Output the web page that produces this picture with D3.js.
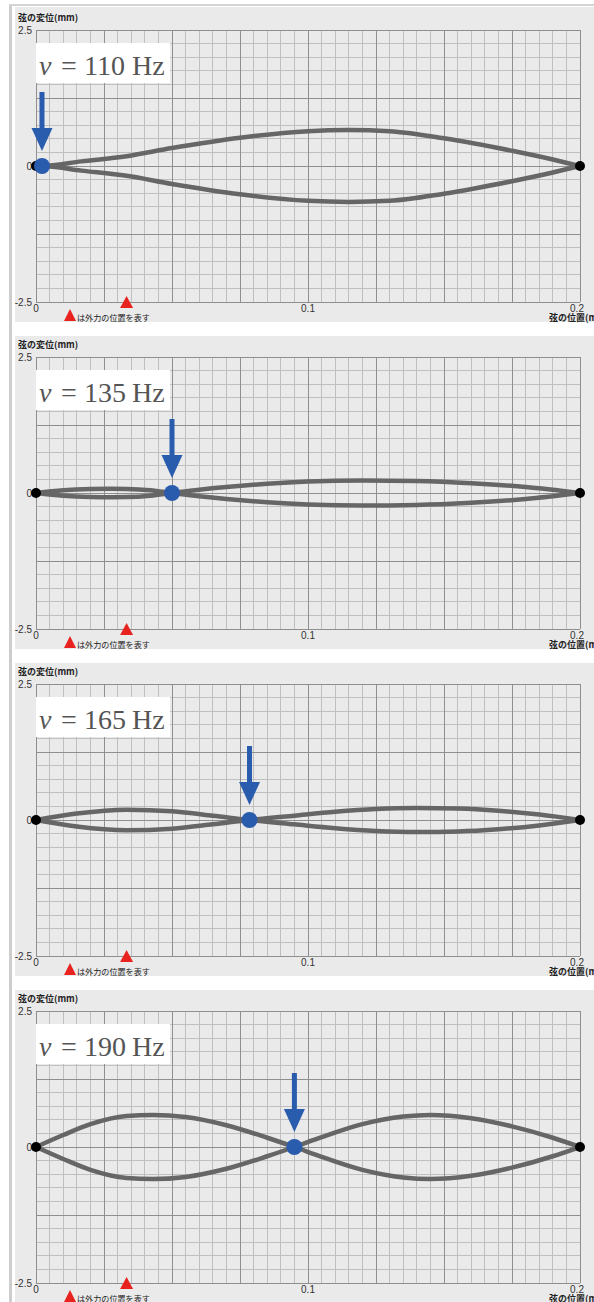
<!DOCTYPE html>
<html>
<head>
<meta charset="utf-8">
<script src="https://cdn.jsdelivr.net/npm/d3@7/dist/d3.min.js"></script>
<style>
html,body{margin:0;padding:0;background:#fff;}
svg{display:block;}
</style>
</head>
<body>
<svg id="chart" width="594" height="1302"></svg>
<script>
// ---------------- data ----------------
const frequencies = [110, 135, 165, 190];
const forcePosition = 0.0333;                 // m (red triangle)
const nodePositions = [0.0022, 0.05, 0.0785, 0.095]; // m (blue dot / arrow)
const endPositions = [0, 0.2];

const xTickValues = [0, 0.1, 0.2];
const xTickLabels = ["0", "0.1", "0.2"];
const yTickValues = [2.5, 0, -2.5];
const yTickLabels = ["2.5", "0", "-2.5"];

// string displacement (mm) along position (m); the two drawn curves are +d and -d
const pos110 = [0, 0.0022, 0.0167, 0.0333, 0.05, 0.075, 0.1, 0.115, 0.13, 0.15, 0.175, 0.19, 0.2];
const disp110 = [0, 0, 0.085, 0.18, 0.33, 0.52, 0.64, 0.66, 0.64, 0.51, 0.28, 0.12, 0];

const pos135 = [0, 0.01, 0.02, 0.028, 0.0333, 0.042, 0.05, 0.06, 0.07, 0.085, 0.1, 0.12, 0.14, 0.16, 0.18, 0.2];
const disp135 = [0, 0.05, 0.073, 0.078, 0.075, 0.05, 0, -0.06, -0.11, -0.17, -0.21, -0.23, -0.22, -0.18, -0.11, 0];

const pos165 = [0, 0.015, 0.0333, 0.05, 0.065, 0.0785, 0.095, 0.11, 0.125, 0.14, 0.155, 0.17, 0.185, 0.2];
const disp165 = [0, 0.12, 0.19, 0.16, 0.08, 0, -0.08, -0.15, -0.2, -0.22, -0.21, -0.17, -0.1, 0];

const pos190 = [0, 0.01, 0.02, 0.0333, 0.043, 0.055, 0.07, 0.085, 0.095, 0.105, 0.12, 0.135, 0.145, 0.16, 0.175, 0.19, 0.2];
const disp190 = [0, 0.22, 0.42, 0.57, 0.59, 0.55, 0.40, 0.17, 0, -0.18, -0.42, -0.56, -0.59, -0.53, -0.38, -0.17, 0];

const positions = [pos110, pos135, pos165, pos190];
const displacements = [disp110, disp135, disp165, disp190];

const yAxisTitle = "弦の変位(mm)";
const xAxisTitle = "弦の位置(m)";
const legendText = "は外力の位置を表す";

// ---------------- layout ----------------
const W = 594, H = 1302;
const panelStep = 327;
const firstPlotTop = 30;
const plotH = 272;
const plotLeft = 36, plotRight = 580;

const svg = d3.select("#chart");
svg.append("rect").attr("width", W).attr("height", H).attr("fill", "#fff");

// left frame strip and top frame line
svg.append("rect").attr("x", 9).attr("y", 4).attr("width", 3).attr("height", H).attr("fill", "#cdcdcd");
svg.append("rect").attr("x", 9).attr("y", 4).attr("width", W - 9).attr("height", 2).attr("fill", "#d4d4d4");

const x = d3.scaleLinear().domain([0, 0.2]).range([plotLeft, plotRight]);
const CJK = "'Noto Sans CJK JP', 'Noto Sans', sans-serif";
const SANS = "'Liberation Sans', Arial, sans-serif";

frequencies.forEach((f, i) => {
  const plotTop = firstPlotTop + i * panelStep;
  const plotBottom = plotTop + plotH;
  const panelTop = i === 0 ? 7 : plotTop - 21;
  const panelBottom = plotBottom + 20;
  const y = d3.scaleLinear().domain([-2.5, 2.5]).range([plotBottom, plotTop]);

  const g = svg.append("g");
  g.append("rect").attr("x", 15).attr("y", panelTop).attr("width", W - 15)
    .attr("height", panelBottom - panelTop).attr("fill", "#eaeaea");

  // grid
  const xGrid = d3.range(41).map(k => k * 0.005);
  const yGrid = d3.range(21).map(k => -2.5 + k * 0.25);
  const grid = g.append("g").attr("shape-rendering", "crispEdges");
  grid.selectAll(".vmin").data(xGrid.filter((d, k) => k % 5 !== 0)).join("line")
    .attr("x1", d => x(d)).attr("x2", d => x(d)).attr("y1", plotTop).attr("y2", plotBottom)
    .attr("stroke", "#bfbfbf").attr("stroke-width", 1);
  grid.selectAll(".hmin").data(yGrid.filter((d, k) => k % 5 !== 0)).join("line")
    .attr("y1", d => y(d)).attr("y2", d => y(d)).attr("x1", plotLeft).attr("x2", plotRight)
    .attr("stroke", "#bfbfbf").attr("stroke-width", 1);
  grid.selectAll(".vmaj").data(xGrid.filter((d, k) => k % 5 === 0)).join("line")
    .attr("x1", d => x(d)).attr("x2", d => x(d)).attr("y1", plotTop).attr("y2", plotBottom)
    .attr("stroke", "#8f8f8f").attr("stroke-width", 1);
  grid.selectAll(".hmaj").data(yGrid.filter((d, k) => k % 5 === 0)).join("line")
    .attr("y1", d => y(d)).attr("y2", d => y(d)).attr("x1", plotLeft).attr("x2", plotRight)
    .attr("stroke", "#8f8f8f").attr("stroke-width", 1);

  // axis titles and tick labels
  g.append("text").attr("x", 18).attr("y", plotTop - 9.5).text(yAxisTitle)
    .attr("font-family", CJK).attr("font-weight", "bold").attr("font-size", 9).attr("fill", "#222");
  g.selectAll(".ytl").data(yTickValues).join("text")
    .attr("x", 32).attr("y", d => y(d)).attr("dy", "0.35em")
    .attr("text-anchor", "end").attr("font-family", SANS).attr("font-size", 10).attr("fill", "#333")
    .text((d, k) => yTickLabels[k]);
  g.selectAll(".xtl").data(xTickValues).join("text")
    .attr("x", (d, k) => x(d) - (k === 2 ? 3 : 0)).attr("y", plotBottom + 9.5)
    .attr("text-anchor", "middle").attr("font-family", SANS).attr("font-size", 10).attr("fill", "#333")
    .text((d, k) => xTickLabels[k]);
  g.append("text").attr("x", 549).attr("y", plotBottom + 19).text(xAxisTitle)
    .attr("font-family", CJK).attr("font-weight", "bold").attr("font-size", 9).attr("fill", "#222");

  // legend
  g.append("path").attr("d", `M64,${plotBottom + 19}L70,${plotBottom + 7}L76,${plotBottom + 19}Z`).attr("fill", "#e8231f");
  g.append("text").attr("x", 77).attr("y", plotBottom + 18.5).text(legendText)
    .attr("font-family", CJK).attr("font-size", 8.1).attr("fill", "#222");

  // string curves
  const pts = positions[i].map((p, k) => [p, displacements[i][k]]);
  const line = d3.line().x(d => x(d[0])).y(d => y(d[1])).curve(d3.curveMonotoneX);
  const lineNeg = d3.line().x(d => x(d[0])).y(d => y(-d[1])).curve(d3.curveMonotoneX);
  g.append("path").attr("d", line(pts)).attr("fill", "none").attr("stroke", "#666")
    .attr("stroke-width", 4.5).attr("stroke-linejoin", "round");
  g.append("path").attr("d", lineNeg(pts)).attr("fill", "none").attr("stroke", "#666")
    .attr("stroke-width", 4.5).attr("stroke-linejoin", "round");

  // fixed ends
  g.selectAll(".end").data(endPositions).join("circle")
    .attr("cx", d => x(d)).attr("cy", y(0)).attr("r", 5).attr("fill", "#000");

  // force position marker
  const fx = x(forcePosition);
  g.append("path").attr("d", `M${fx - 6.5},${plotBottom + 6}L${fx},${plotBottom - 6}L${fx + 6.5},${plotBottom + 6}Z`)
    .attr("fill", "#e8231f");

  // node marker: arrow + dot
  const nx = x(nodePositions[i]);
  const y0 = y(0);
  g.append("rect").attr("x", nx - 2.5).attr("y", y0 - 74).attr("width", 5).attr("height", 38).attr("fill", "#2a5cad");
  g.append("path").attr("d", `M${nx - 10.5},${y0 - 38}L${nx + 10.5},${y0 - 38}L${nx},${y0 - 15}Z`).attr("fill", "#2a5cad");
  g.append("circle").attr("cx", nx).attr("cy", y0).attr("r", 8).attr("fill", "#2a5cad");

  // frequency label
  g.append("rect").attr("x", 36).attr("y", plotTop + 13).attr("width", 134).attr("height", 40).attr("fill", "#fff");
  const t = g.append("text").attr("y", plotTop + 45)
    .attr("font-family", "'Liberation Serif', 'Times New Roman', serif").attr("font-size", 28).attr("fill", "#555");
  t.append("tspan").attr("x", 39).attr("font-style", "italic").text("ν");
  t.append("tspan").attr("x", 61).text("=");
  t.append("tspan").attr("x", 84).text(String(f));
  t.append("tspan").attr("x", 132).text("Hz");
});
</script>
</body>
</html>
